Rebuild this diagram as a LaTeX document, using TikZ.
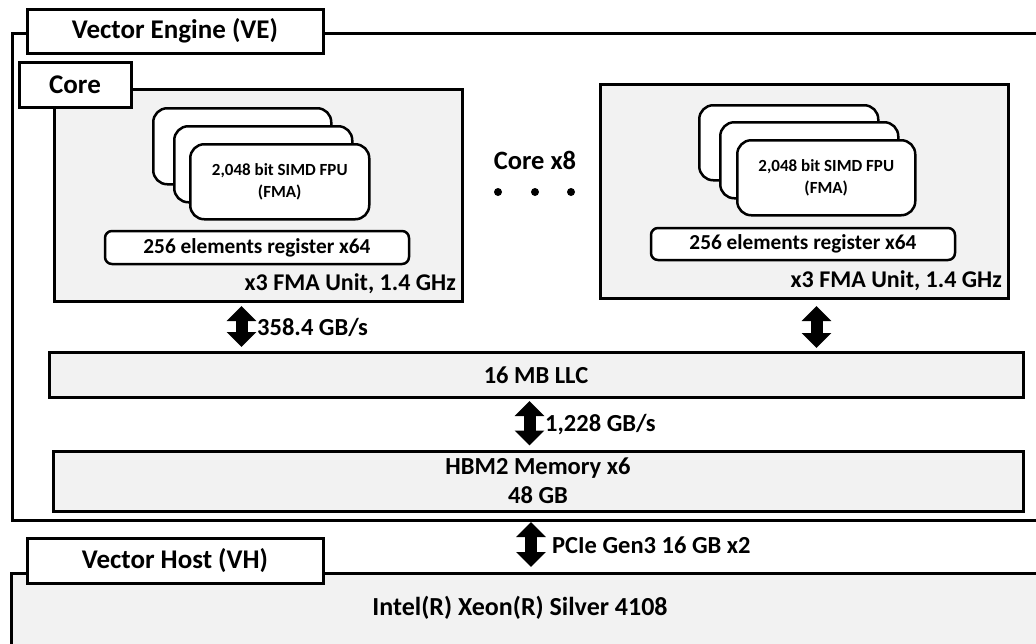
\documentclass[tikz,border=0pt]{standalone}
\usepackage{fontspec}
\setmainfont{Carlito}
\usetikzlibrary{arrows.meta}
\definecolor{boxgray}{HTML}{F2F2F2}
\begin{document}
\begin{tikzpicture}[x=1pt,y=-1pt,
  flbl/.style={font=\fontsize{27}{32}\selectfont\bfseries},
  fbig/.style={font=\fontsize{24.5}{29}\selectfont\bfseries},
  fmid/.style={font=\fontsize{21.3}{25}\selectfont\bfseries},
  fsmall/.style={font=\fontsize{17}{22}\selectfont\bfseries},
  frame/.style={draw=black, line width=3pt, inner sep=0pt},
  graybox/.style={frame, fill=boxgray},
  lbl/.style={frame, fill=white, flbl},
  card/.style={draw=black, line width=2.5pt, fill=white, rounded corners=14pt, inner sep=0pt, align=center, fsmall},
  regbox/.style={draw=black, line width=2.5pt, fill=white, rounded corners=7pt, inner sep=0pt, fmid},
  bigarrow/.style={line width=12pt, {Triangle[width=29pt,length=15pt]}-{Triangle[width=29pt,length=15pt]}},
  txt/.style={inner sep=0pt, fbig},
  dot/.style={circle, fill=black, inner sep=0pt, minimum size=8pt}
]
\useasboundingbox (0,0) rectangle (1036,643);
\fill[white] (0,0) rectangle (1036,643);

% Vector Engine frame
\node[frame, anchor=north west, minimum width=1045, minimum height=487] (ve) at (11,32) {};
\node[lbl, minimum width=296, minimum height=44] (velbl) at (175,31) {Vector Engine (VE)};

% Core 1
\node[graybox, anchor=north west, minimum width=408, minimum height=212] (core1) at (53,88) {};
\node[lbl, minimum width=112, minimum height=45] (corelbl) at (75,84.5) {Core};
\node[card, anchor=north west, minimum width=178, minimum height=76] (c1a) at (152,107) {};
\node[card, anchor=north west, minimum width=178, minimum height=76] (c1b) at (173,125) {};
\node[card, anchor=north west, minimum width=179, minimum height=75] (c1c) at (189,143) {2,048 bit SIMD FPU\\(FMA)};
\node[regbox, minimum width=304, minimum height=33] (reg1) at (257,247.5) {256 elements register x64};
\node[txt, anchor=base east, font=\fontsize{24}{29}\selectfont\bfseries] (fma1) at (456,290) {x3 FMA Unit, 1.4 GHz};

% Core 2
\node[graybox, anchor=north west, minimum width=408, minimum height=214] (core2) at (599,83) {};
\node[card, anchor=north west, minimum width=179, minimum height=75] (c2a) at (698,104) {};
\node[card, anchor=north west, minimum width=178, minimum height=76] (c2b) at (719,121) {};
\node[card, anchor=north west, minimum width=178, minimum height=75] (c2c) at (736,139) {2,048 bit SIMD FPU\\(FMA)};
\node[regbox, minimum width=304, minimum height=32] (reg2) at (803,244) {256 elements register x64};
\node[txt, anchor=base east, font=\fontsize{24}{29}\selectfont\bfseries] (fma2) at (1002,287) {x3 FMA Unit, 1.4 GHz};

% Core x8
\node[txt, font=\fontsize{26.5}{30}\selectfont\bfseries] (corex8) at (535,160) {Core x8};
\node[dot] (d1) at (498,192) {};
\node[dot] (d2) at (535,192) {};
\node[dot] (d3) at (571,192) {};

% LLC and HBM
\node[graybox, fbig, minimum width=974, minimum height=45] (llc) at (536,375) {16 MB LLC};
\node[graybox, fbig, align=center, minimum width=970, minimum height=60] (hbm) at (538,481) {HBM2 Memory x6\\48 GB};

% Vector Host
\node[graybox, anchor=north west, minimum width=1045, minimum height=90] (vh) at (10,572) {};
\node[lbl, minimum width=296, minimum height=45] (vhlbl) at (175,560.5) {Vector Host (VH)};
\node[txt, font=\fontsize{26}{30}\selectfont\bfseries] (xeon) at (520,608) {Intel(R) Xeon(R) Silver 4108};

% Arrows
\draw[bigarrow] ([xshift=-17pt,yshift=-3pt]core1.south) -- ([xshift=-17pt,yshift=4pt]core1.south |- llc.north);
\draw[bigarrow] ([xshift=12pt,yshift=-6pt]core2.south) -- ([xshift=12pt,yshift=3pt]core2.south |- llc.north);
\draw[bigarrow] ([xshift=-6.5pt,yshift=-2pt]llc.south) -- ([xshift=-6.5pt,yshift=4pt]llc.south |- hbm.north);
\coordinate (vebot) at (531,519);
\draw[bigarrow] ([yshift=-3pt]vebot) -- ([yshift=5pt]vebot |- vh.north);

% Arrow labels
\node[txt, anchor=west] (bw1) at (257,327) {358.4 GB/s};
\node[txt, anchor=west] (bw2) at (545,425) {1,228 GB/s};
\node[txt, anchor=west] (bw3) at (552,545) {PCIe Gen3 16 GB x2};
\end{tikzpicture}
\end{document}
